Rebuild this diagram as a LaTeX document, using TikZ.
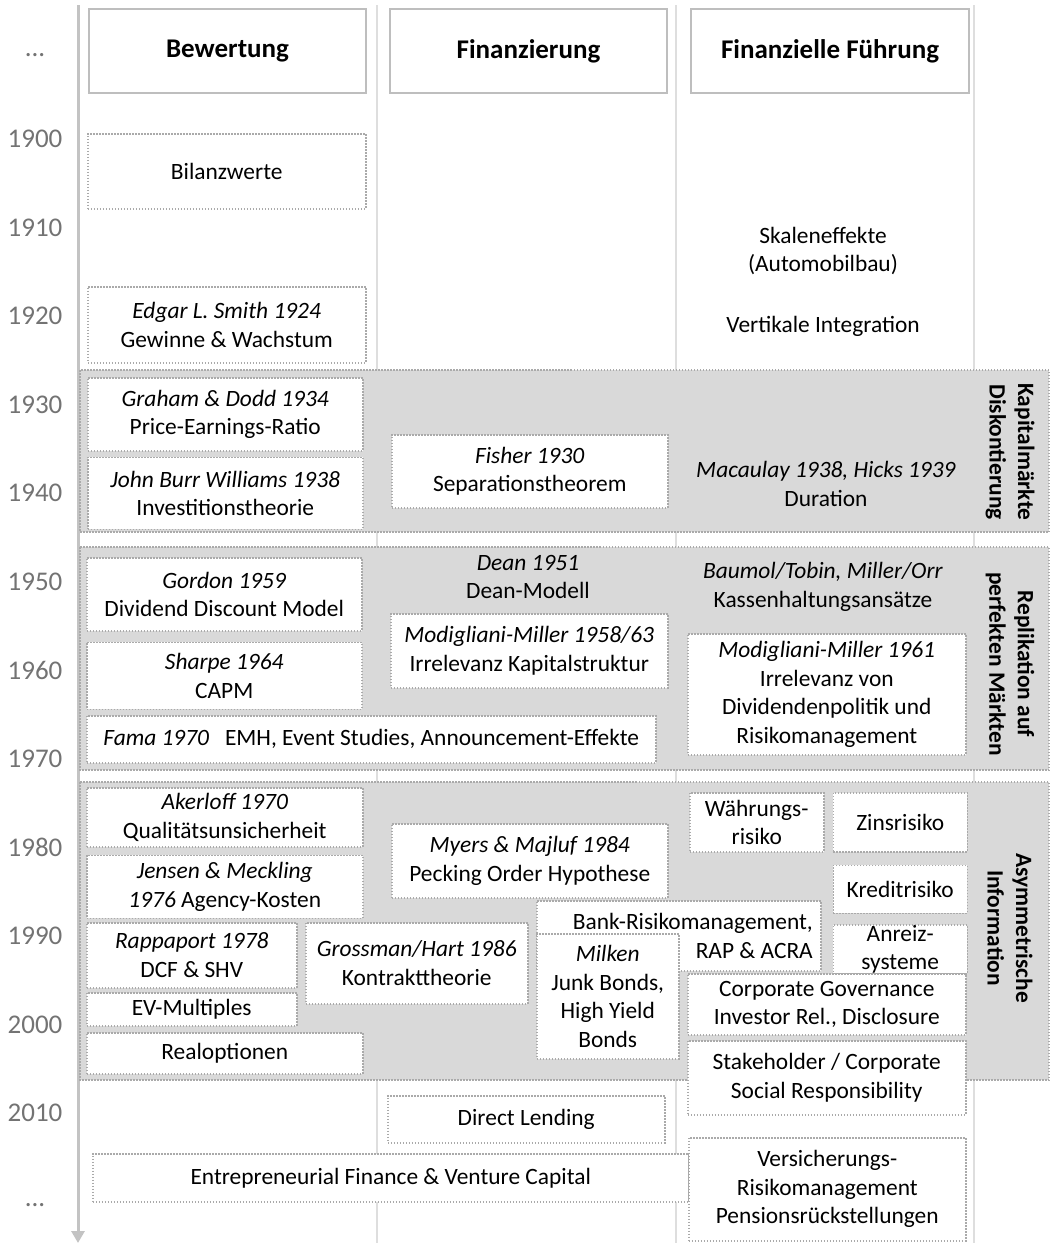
\documentclass[tikz,border=0pt]{standalone}
\usepackage{fontspec}
\setmainfont{Carlito}
\usetikzlibrary{positioning,arrows.meta}
\definecolor{bandgray}{RGB}{217,217,217}
\definecolor{dotgray}{RGB}{170,170,170}
\definecolor{headgray}{RGB}{190,190,190}
\definecolor{yeargray}{RGB}{115,115,115}
\definecolor{colgray}{RGB}{222,222,222}
\definecolor{axisgray}{RGB}{195,195,195}

\begin{document}
\begin{tikzpicture}[
    x=1pt,y=-1pt,
    font=\fontsize{23.4}{28.5}\selectfont,
    box/.style={draw=dotgray,fill=white,line width=1.5pt,dash pattern=on 1.5pt off 1.5pt,anchor=north west,align=center,inner sep=0pt},
    head/.style={draw=headgray,fill=white,line width=2pt,anchor=north west,inner sep=0pt,font=\fontsize{27}{32}\selectfont\bfseries},
    band/.style={fill=bandgray,draw=dotgray,line width=1.5pt,dash pattern=on 1.5pt off 1.5pt},
    bandlabel/.style={rotate=-90,align=center,font=\fontsize{23.4}{28.5}\selectfont\bfseries},
    plain/.style={align=center},
    year/.style={text=yeargray,font=\fontsize{27}{32}\selectfont},
    colline/.style={draw=colgray,line width=2pt}]
    \useasboundingbox (0,0) rectangle (1051,1243);

    \foreach \cx in {377,676,974}
        \draw[colline] (\cx,5) -- (\cx,1243);
    \coordinate (axtop) at (78,5);
    \coordinate (axbot) at (78,1243);
    \draw[axisgray,line width=3pt,-{Triangle[width=13pt,length=12pt]}] (axtop) -- (axbot);

    \draw[band] (80,370) rectangle (1049,532);
    \draw[band] (80,547) rectangle (1049,770);
    \draw[band] (80,782) rectangle (1049,1080);

    \node[head,minimum width=277pt,minimum height=84pt] (hBew) at (88,8) {Bewertung};
    \node[head,minimum width=277pt,minimum height=84pt] (hFin) [right=22pt of hBew] {Finanzierung};
    \node[head,minimum width=278pt,minimum height=84pt] (hFue) [right=22pt of hFin] {Finanzielle Führung};

    \node[year] (ydotsA) at (35,55) {...};
    \foreach \yr [count=\i from 0] in {1900,1910,...,2010}
        \node[year] (y\yr) at (35,{139+88.55*\i}) {\yr};
    \node[year] (ydotsB) at (35,1205) {...};

    \node[box,minimum width=278pt,minimum height=75pt] (bilanz) at (87,133) {Bilanzwerte};
    \node[box,minimum width=278pt,minimum height=76pt] (smith) at (87,286) {\textit{Edgar L. Smith 1924}\\Gewinne \& Wachstum};
    \node[box,minimum width=275pt,minimum height=73pt] (graham) at (87,377) {\textit{Graham \& Dodd 1934}\\Price-Earnings-Ratio};
    \node[box,minimum width=275pt,minimum height=72pt] (williams) [below=5pt of graham] {\textit{John Burr Williams 1938}\\Investitionstheorie};
    \node[box,minimum width=276pt,minimum height=73pt] (fisher) at (391,434) {\textit{Fisher 1930}\\Separationstheorem};
    \node[plain] (skalen) at (823,251) {Skaleneffekte\\(Automobilbau)};
    \node[plain] (vertikal) at (823,326) {Vertikale Integration};
    \node[plain] (macaulay) at (826,484) {\textit{Macaulay 1938, Hicks 1939}\\Duration};

    \node[box,minimum width=275pt,minimum height=73pt] (gordon) at (86,557) {\textit{Gordon 1959}\\Dividend Discount Model};
    \node[box,minimum width=275pt,minimum height=67pt] (sharpe) [below=10pt of gordon] {\textit{Sharpe 1964}\\CAPM};
    \node[box,minimum width=569pt,minimum height=47pt] (fama) at (86,715) {\textit{Fama 1970}~~ EMH, Event Studies, Announcement-Effekte};
    \node[plain] (dean) at (528,577) {\textit{Dean 1951}\\Dean-Modell};
    \node[box,minimum width=277pt,minimum height=74pt] (mmA) at (390,613) {\textit{Modigliani-Miller 1958/63}\\Irrelevanz Kapitalstruktur};
    \node[plain] (baumol) at (823,587) {\textit{Baumol/Tobin, Miller/Orr}\\Kassenhaltungsansätze};
    \node[box,minimum width=278pt,minimum height=121pt] (mmB) at (687,633) {\textit{Modigliani-Miller 1961}\\Irrelevanz von\\Dividendenpolitik und\\Risikomanagement};

    \node[box,minimum width=276pt,minimum height=59pt] (akerloff) at (86,787) {\textit{Akerloff 1970}\\Qualitätsunsicherheit};
    \node[box,minimum width=276pt,minimum height=63pt] (jensen) [below=7pt of akerloff] {\textit{Jensen \& Meckling}\\\textit{1976} Agency-Kosten};
    \node[box,minimum width=210pt,minimum height=65pt] (rappaport) at (86,922) {\textit{Rappaport 1978}\\DCF \& SHV};
    \node[box,minimum width=210pt,minimum height=33pt] (evmult) at (86,992) {EV-Multiples};
    \node[box,minimum width=276pt,minimum height=41pt] (realopt) at (86,1032) {Realoptionen};
    \node[box,minimum width=222pt,minimum height=81pt] (grossman) at (305,922) {\textit{Grossman/Hart 1986}\\Kontrakttheorie};
    \node[box,minimum width=276pt,minimum height=74pt] (myers) at (391,823) {\textit{Myers \& Majluf 1984}\\Pecking Order Hypothese};
    \node[box,minimum width=284pt,minimum height=70pt,text width=268pt,align=flush right] (bank) at (536,900) {Bank-Risikomanagement,\\RAP \& ACRA};
    \node[box,minimum width=142pt,minimum height=125pt] (milken) at (536,933) {\textit{Milken}\\Junk Bonds,\\High Yield\\Bonds};
    \node[box,minimum width=134pt,minimum height=59pt] (waehrung) at (689,792) {Währungs-\\risiko};
    \node[box,minimum width=134pt,minimum height=59pt] (zins) [right=8pt of waehrung] {Zinsrisiko};
    \node[box,minimum width=134pt,minimum height=48pt] (kredit) [below=12pt of zins] {Kreditrisiko};
    \node[box,minimum width=134pt,minimum height=49pt] (anreiz) [below=10pt of kredit] {Anreiz-\\systeme};
    \node[box,minimum width=278pt,minimum height=61pt] (corpgov) at (687,973) {Corporate Governance\\Investor Rel., Disclosure};
    \node[box,minimum width=278pt,minimum height=74pt] (stakeholder) at (687,1040) {Stakeholder / Corporate\\Social Responsibility};

    \node[box,minimum width=277pt,minimum height=47pt] (direct) at (387,1095) {Direct Lending};
    \node[box,minimum width=596pt,minimum height=48pt] (entre) at (92,1153) {Entrepreneurial Finance \& Venture Capital};
    \node[box,minimum width=277pt,minimum height=103pt] (versich) at (688,1137) {Versicherungs-\\Risikomanagement\\Pensionsrückstellungen};

    \node[bandlabel] (lblA) at (1010,452) {Kapitalmärkte\\Diskontierung};
    \node[bandlabel] (lblB) at (1010,664) {Replikation auf\\perfekten Märkten};
    \node[bandlabel] (lblC) at (1010,928) {Asymmetrische\\Information};
\end{tikzpicture}
\end{document}
